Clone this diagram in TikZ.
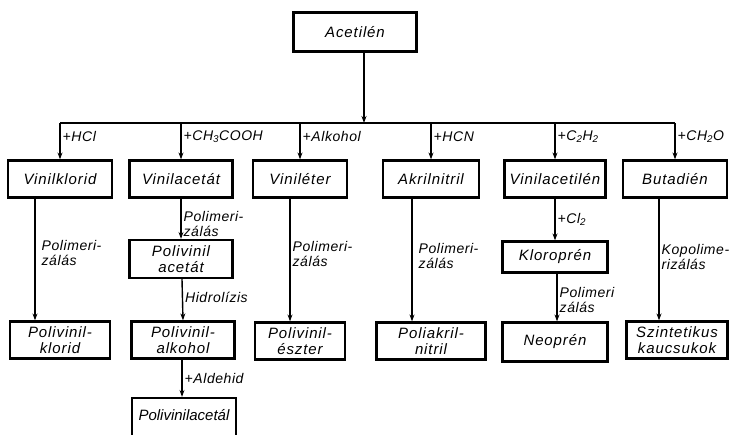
\documentclass[tikz,border=0pt]{standalone}
\usepackage{fontspec}
\setmainfont{Liberation Sans}
\usetikzlibrary{arrows.meta,positioning}

\begin{document}
\begin{tikzpicture}[x=1pt,y=-1pt,>={Stealth[length=7pt,width=5pt]},
    box/.style={draw,line width=2.2pt,align=center,inner sep=1pt,minimum height=37pt,
        font=\itshape\addfontfeature{LetterSpace=6}\fontsize{15}{16}\selectfont},
    lab/.style={right,align=left,inner sep=2pt,
        font=\itshape\addfontfeature{LetterSpace=4}\fontsize{14}{15}\selectfont},
    arr/.style={->,line width=1.4pt},
    bus/.style={line width=1.8pt}]
    \clip (0,0) rectangle (731,435);

    \node[box,minimum width=123pt,minimum height=39pt] (acet) at (355,32) {Acetilén};

    \node[box,minimum width=104pt] (vklor) at (60,179) {Vinilklorid};
    \node[box,minimum width=103pt] (vacet) at (181,179) {Vinilacetát};
    \node[box,minimum width=94pt] (veter) at (300,179) {Viniléter};
    \node[box,minimum width=96pt] (akril) at (431,179) {Akrilnitril};
    \node[box,minimum width=101pt] (vacil) at (555,179) {Vinilacetilén};
    \node[box,minimum width=104pt] (butad) at (675,179) {Butadién};

    \node[box,minimum width=103pt,minimum height=38pt] (pvacet) at (181,259) {Polivinil\\acetát};
    \node[box,minimum width=105pt,minimum height=31pt] (klor) at (555,257) {Kloroprén};

    \node[box,minimum width=100pt] (pvklor) at (60,340) {Polivinil-\\klorid};
    \node[box,minimum width=103pt] (pvalk) at (183,340) {Polivinil-\\alkohol};
    \node[box,minimum width=90pt] (pveszt) at (300,341) {Polivinil-\\észter};
    \node[box,minimum width=109pt] (pakril) at (431,341) {Poliakril-\\nitril};
    \node[box,minimum width=105pt,minimum height=39pt] (neopr) at (555,342) {Neoprén};
    \node[box,minimum width=101pt] (szint) at (677,340) {Szintetikus\\kaucsukok};

    \node[box,minimum width=104pt,minimum height=46pt,text depth=13pt,
        font=\itshape\fontsize{15}{16}\selectfont] (pvacl) at (184,421) {Polivinilacetál};

    \coordinate (hub) at (364,123);
    \draw[arr] (acet.south -| hub) -- (hub);
    \draw[bus] (vklor.north |- hub) -- (butad.north |- hub);

    \draw[arr] (vklor.north |- hub) -- node[lab,pos=0.38] {+HCl} (vklor.north);
    \draw[arr] (vacet.north |- hub) -- node[lab,pos=0.38] {+CH\textsubscript{3}COOH} (vacet.north);
    \draw[arr] (veter.north |- hub) -- node[lab,pos=0.38] {+Alkohol} (veter.north);
    \draw[arr] (akril.north |- hub) -- node[lab,pos=0.38] {+HCN} (akril.north);
    \draw[arr] (vacil.north |- hub) -- node[lab,pos=0.38] {+C\textsubscript{2}H\textsubscript{2}} (vacil.north);
    \draw[arr] (butad.north |- hub) -- node[lab,pos=0.38] {+CH\textsubscript{2}O} (butad.north);

    \draw[arr] ([xshift=-25pt]vklor.south) -- node[lab,pos=0.45,xshift=4pt] {Polimeri-\\zálás} ([xshift=-25pt]pvklor.north);
    \draw[arr] (vacet.south) -- node[lab,pos=0.62] {Polimeri-\\zálás} (pvacet.north);
    \draw[arr] ([xshift=1pt]pvacet.south) -- node[lab,pos=0.45] {Hidrolízis} (pvalk.north);
    \draw[arr] ([xshift=-1pt]pvalk.south) -- node[lab,pos=0.5] {+Aldehid} ([xshift=-2pt]pvacl.north);
    \draw[arr] ([xshift=-10pt]veter.south) -- node[lab,pos=0.45] {Polimeri-\\zálás} ([xshift=-10pt]pveszt.north);
    \draw[arr] ([xshift=-19pt]akril.south) -- node[lab,pos=0.47,xshift=4pt] {Polimeri-\\zálás} ([xshift=-19pt]pakril.north);
    \draw[arr] (vacil.south) -- node[lab,pos=0.5] {+Cl\textsubscript{2}} (klor.north);
    \draw[arr] ([xshift=2pt]klor.south) -- node[lab,pos=0.55] {Polimeri\\zálás} ([xshift=2pt]neopr.north);
    \draw[arr] ([xshift=-16pt]butad.south) -- node[lab,pos=0.48] {Kopolime-\\rizálás} ([xshift=-18pt]szint.north);
\end{tikzpicture}
\end{document}
